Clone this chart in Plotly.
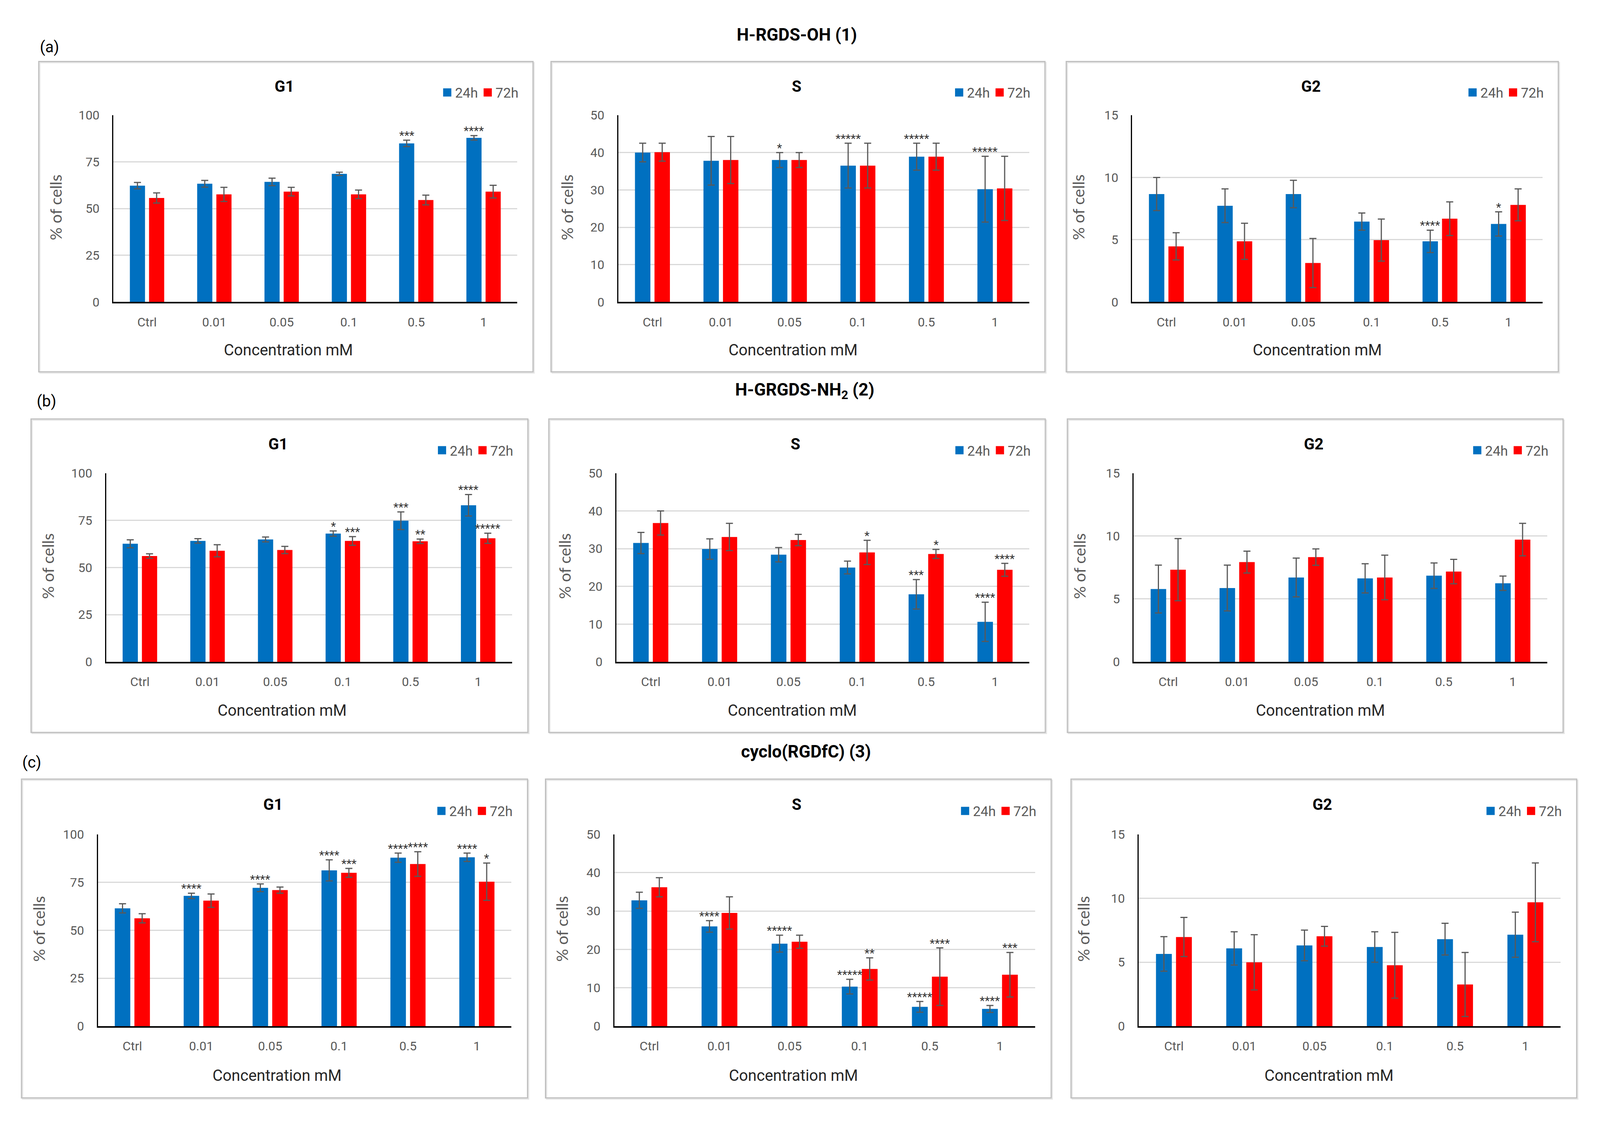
import plotly.graph_objects as go

# ---------------- DATA ----------------
categories = ["Ctrl", "0.01", "0.05", "0.1", "0.5", "1"]
series_names = ["24h", "72h"]

# (a) H-RGDS-OH (1)
a_G1_24h = [62.3, 63.3, 64.3, 68.6, 84.9, 87.9]
a_G1_24h_err = [1.7, 1.8, 2.0, 0.9, 1.7, 1.2]
a_G1_72h = [55.7, 57.6, 59.1, 57.6, 54.6, 59.1]
a_G1_72h_err = [2.7, 3.8, 2.3, 2.3, 2.6, 3.4]
a_G1_24h_sig = ["", "", "", "", "***", "****"]
a_G1_72h_sig = ["", "", "", "", "", ""]

a_S_24h = [40.0, 37.8, 38.0, 36.5, 38.9, 30.2]
a_S_24h_err = [2.5, 6.5, 2.0, 6.0, 3.6, 8.8]
a_S_72h = [40.1, 38.0, 38.0, 36.5, 38.9, 30.4]
a_S_72h_err = [2.4, 6.3, 2.0, 6.0, 3.6, 8.6]
a_S_24h_sig = ["", "", "*", "*****", "*****", "*****"]
a_S_72h_sig = ["", "", "", "", "", ""]

a_G2_24h = [8.67, 7.73, 8.67, 6.46, 4.87, 6.27]
a_G2_24h_err = [1.33, 1.35, 1.10, 0.69, 0.90, 0.97]
a_G2_72h = [4.47, 4.87, 3.13, 4.97, 6.69, 7.80]
a_G2_72h_err = [1.09, 1.45, 1.97, 1.69, 1.35, 1.28]
a_G2_24h_sig = ["", "", "", "", "****", "*"]
a_G2_72h_sig = ["", "", "", "", "", ""]

# (b) H-GRGDS-NH2 (2)
b_G1_24h = [62.6, 64.1, 64.9, 68.0, 74.8, 83.0]
b_G1_24h_err = [2.1, 1.2, 1.3, 1.4, 4.7, 5.7]
b_G1_72h = [56.1, 58.9, 59.3, 64.1, 63.9, 65.5]
b_G1_72h_err = [1.2, 3.2, 1.9, 2.3, 1.2, 2.7]
b_G1_24h_sig = ["", "", "", "*", "***", "****"]
b_G1_72h_sig = ["", "", "", "***", "**", "*****"]

b_S_24h = [31.5, 29.9, 28.4, 25.0, 17.9, 10.6]
b_S_24h_err = [2.8, 2.7, 1.9, 1.7, 3.9, 5.2]
b_S_72h = [36.8, 33.1, 32.3, 29.0, 28.6, 24.4]
b_S_72h_err = [3.2, 3.6, 1.5, 3.2, 1.2, 1.7]
b_S_24h_sig = ["", "", "", "", "***", "****"]
b_S_72h_sig = ["", "", "", "*", "*", "****"]

b_G2_24h = [5.79, 5.87, 6.71, 6.64, 6.85, 6.25]
b_G2_24h_err = [1.90, 1.82, 1.54, 1.16, 1.01, 0.57]
b_G2_72h = [7.33, 7.93, 8.33, 6.71, 7.18, 9.72]
b_G2_72h_err = [2.47, 0.87, 0.65, 1.77, 0.97, 1.29]
b_G2_24h_sig = ["", "", "", "", "", ""]
b_G2_72h_sig = ["", "", "", "", "", ""]

# (c) cyclo(RGDfC) (3)
c_G1_24h = [61.4, 67.9, 72.1, 81.2, 87.8, 88.0]
c_G1_24h_err = [2.4, 1.4, 2.0, 5.5, 2.4, 2.2]
c_G1_72h = [56.2, 65.4, 70.9, 79.9, 84.5, 75.3]
c_G1_72h_err = [2.4, 3.5, 1.6, 2.3, 6.4, 9.7]
c_G1_24h_sig = ["", "****", "****", "****", "****", "****"]
c_G1_72h_sig = ["", "", "", "***", "****", "*"]

c_S_24h = [32.8, 26.0, 21.5, 10.3, 5.05, 4.5]
c_S_24h_err = [2.1, 1.5, 2.2, 1.9, 1.4, 0.9]
c_S_72h = [36.2, 29.5, 22.0, 14.9, 12.9, 13.4]
c_S_72h_err = [2.5, 4.2, 1.7, 2.9, 7.5, 5.8]
c_S_24h_sig = ["", "****", "*****", "*****", "*****", "****"]
c_S_72h_sig = ["", "", "", "**", "****", "***"]

c_G2_24h = [5.65, 6.08, 6.31, 6.19, 6.80, 7.15]
c_G2_24h_err = [1.35, 1.30, 1.20, 1.19, 1.24, 1.76]
c_G2_72h = [6.97, 4.99, 7.03, 4.76, 3.26, 9.68]
c_G2_72h_err = [1.53, 2.16, 0.77, 2.57, 2.50, 3.08]
c_G2_24h_sig = ["", "", "", "", "", ""]
c_G2_72h_sig = ["", "", "", "", "", ""]

row_letters = ["(a)", "(b)", "(c)"]
row_titles = ["H-RGDS-OH (1)", "H-GRGDS-NH<sub>2</sub> (2)", "cyclo(RGDfC) (3)"]
phase_titles = ["G1", "S", "G2"]
phase_ymax = [100, 50, 15]
phase_dtick = [25, 10, 5]
x_title = "Concentration mM"
y_title = "% of cells"

panel_data = [
    [(a_G1_24h, a_G1_24h_err, a_G1_72h, a_G1_72h_err, a_G1_24h_sig, a_G1_72h_sig),
     (a_S_24h, a_S_24h_err, a_S_72h, a_S_72h_err, a_S_24h_sig, a_S_72h_sig),
     (a_G2_24h, a_G2_24h_err, a_G2_72h, a_G2_72h_err, a_G2_24h_sig, a_G2_72h_sig)],
    [(b_G1_24h, b_G1_24h_err, b_G1_72h, b_G1_72h_err, b_G1_24h_sig, b_G1_72h_sig),
     (b_S_24h, b_S_24h_err, b_S_72h, b_S_72h_err, b_S_24h_sig, b_S_72h_sig),
     (b_G2_24h, b_G2_24h_err, b_G2_72h, b_G2_72h_err, b_G2_24h_sig, b_G2_72h_sig)],
    [(c_G1_24h, c_G1_24h_err, c_G1_72h, c_G1_72h_err, c_G1_24h_sig, c_G1_72h_sig),
     (c_S_24h, c_S_24h_err, c_S_72h, c_S_72h_err, c_S_24h_sig, c_S_72h_sig),
     (c_G2_24h, c_G2_24h_err, c_G2_72h, c_G2_72h_err, c_G2_24h_sig, c_G2_72h_sig)],
]

# ---------------- LAYOUT CONSTANTS ----------------
W, H = 4340, 2876   # reference canvas, used only to turn pixel layout into paper fractions
BLUE = "#0070C0"
RED = "#FF0000"
ERR = "#595959"
GRID = "#D9D9D9"
SANS = "Roboto, Open Sans, Liberation Sans, sans-serif"
GEO = "Lato, Open Sans, sans-serif"
BARGAP = 0.43
BARGROUPGAP = 0.21

# panel boxes in pixels: (left, top, right, bottom)
boxes = [
    [(97, 133, 1443, 943), (1492, 133, 2837, 943), (2895, 133, 4235, 943)],
    [(76, 1066, 1429, 1884), (1486, 1066, 2838, 1884), (2898, 1066, 4248, 1884)],
    [(50, 2006, 1428, 2838), (1477, 2006, 2854, 2838), (2908, 2006, 4285, 2838)],
]
plot_left = [0.151, 0.136, 0.134]
plot_right = 0.968
plot_top = 0.173
plot_bottom = 0.775
title_y = 0.08
legend_y = 0.10
xtitle_x = [0.505, 0.49, 0.51]
xtitle_y = 0.93
ytitle_x = [0.034, 0.032, 0.024]
ytitle_y = 0.47

header_letter_pos = [(126, 95), (118, 1020), (78, 1962)]
header_title_pos = [(2162, 63), (2183, 993), (2187, 1934)]


def px(x):
    return x / W


def py(y):
    return 1 - y / H


fig = go.Figure()
layout = dict(
    autosize=True,
    margin=dict(l=0, r=0, t=0, b=0, pad=0),
    paper_bgcolor="white", plot_bgcolor="white",
    bargap=BARGAP, bargroupgap=BARGROUPGAP, barmode="group",
    showlegend=True,
)
annotations = []
shapes = []

k = 0
for r in range(3):
    for c in range(3):
        k += 1
        v24, e24, v72, e72, s24, s72 = panel_data[r][c]
        L, T, R, B = boxes[r][c]
        w, h = R - L, B - T
        xa = "x" if k == 1 else f"x{k}"
        ya = "y" if k == 1 else f"y{k}"
        lg = "legend" if k == 1 else f"legend{k}"

        # panel frame
        shapes.append(dict(type="rect", xref="paper", yref="paper",
                           x0=px(L + 3), x1=px(R + 3), y0=py(B + 3), y1=py(T + 3),
                           line=dict(color="#E6E6E6", width=3), layer="below"))
        shapes.append(dict(type="rect", xref="paper", yref="paper",
                           x0=px(L), x1=px(R), y0=py(B), y1=py(T),
                           line=dict(color="#BFBFBF", width=3), layer="below"))

        for name, vals, errs, col in ((series_names[0], v24, e24, BLUE),
                                      (series_names[1], v72, e72, RED)):
            fig.add_trace(go.Bar(
                x=categories, y=vals, name=name, marker=dict(color=col, line=dict(width=0)),
                error_y=dict(type="data", array=errs, visible=True, color=ERR,
                             thickness=3, width=9),
                xaxis=xa, yaxis=ya, showlegend=False, legend=lg,
            ))
            fig.add_trace(go.Scatter(
                x=[None], y=[None], mode="markers", name=name,
                marker=dict(symbol="square", size=16, color=col, line=dict(color=col, width=5)),
                xaxis=xa, yaxis=ya, showlegend=True, legend=lg,
            ))

        xdom = [px(L + plot_left[c] * w), px(L + plot_right * w)]
        ydom = [py(T + plot_bottom * h), py(T + plot_top * h)]
        xkey = "xaxis" if k == 1 else f"xaxis{k}"
        ykey = "yaxis" if k == 1 else f"yaxis{k}"
        layout[xkey] = dict(
            domain=xdom, anchor=ya, type="category",
            showline=True, linecolor="black", linewidth=4,
            ticks="", showgrid=False, zeroline=False,
            tickfont=dict(family=SANS, size=32, color="#595959"),
            ticklabelstandoff=20,
        )
        layout[ykey] = dict(
            domain=ydom, anchor=xa, range=[0, phase_ymax[c]], dtick=phase_dtick[c],
            showline=True, linecolor="black", linewidth=3,
            showgrid=True, gridcolor=GRID, gridwidth=3, zeroline=False,
            ticks="", tickfont=dict(family=SANS, size=32, color="#595959"),
            ticklabelstandoff=26,
        )
        layout[lg] = dict(
            x=px(L + 0.975 * w), y=py(T + legend_y * h), xanchor="right", yanchor="middle",
            orientation="h", bgcolor="rgba(0,0,0,0)",
            font=dict(family=SANS, size=35, color="#595959"),
            itemwidth=30, tracegroupgap=0,
        )

        # panel title
        annotations.append(dict(
            text=f"<b>{phase_titles[c]}</b>", xref="paper", yref="paper",
            x=px(L + 0.497 * w), y=py(T + title_y * h), xanchor="center", yanchor="middle",
            showarrow=False, font=dict(family=SANS, size=40, color="black")))
        # x axis title
        annotations.append(dict(
            text=x_title, xref="paper", yref="paper",
            x=px(L + xtitle_x[c] * w), y=py(T + xtitle_y * h), xanchor="center", yanchor="middle",
            showarrow=False, font=dict(family=SANS, size=40, color="#262626")))
        # y axis title
        annotations.append(dict(
            text=y_title, xref="paper", yref="paper", textangle=-90,
            x=px(L + ytitle_x[c] * w), y=py(T + ytitle_y * h), xanchor="center", yanchor="middle",
            showarrow=False, font=dict(family=GEO, size=41, color="#595959")))

        # significance stars
        off = (1 - BARGAP) / 4
        for i in range(len(categories)):
            for sigs, vals, errs, sgn in ((s24, v24, e24, -1), (s72, v72, e72, 1)):
                if sigs[i]:
                    annotations.append(dict(
                        text=sigs[i], xref=xa, yref=ya, x=i + sgn * off, y=vals[i] + errs[i],
                        xanchor="center", yanchor="bottom", yshift=-7, showarrow=False,
                        font=dict(family=SANS, size=30, color="#333333")))

# row headers
for r in range(3):
    lx, ly = header_letter_pos[r]
    tx, ty = header_title_pos[r]
    annotations.append(dict(text=row_letters[r], xref="paper", yref="paper",
                            x=px(lx), y=py(ly), xanchor="center", yanchor="middle",
                            showarrow=False, font=dict(family=SANS, size=40, color="black")))
    annotations.append(dict(text=f"<b>{row_titles[r]}</b>", xref="paper", yref="paper",
                            x=px(tx), y=py(ty), xanchor="center", yanchor="middle",
                            showarrow=False, font=dict(family=SANS, size=44, color="black")))

layout["annotations"] = annotations
layout["shapes"] = shapes
fig.update_layout(**layout)
fig.write_html("out.html")
